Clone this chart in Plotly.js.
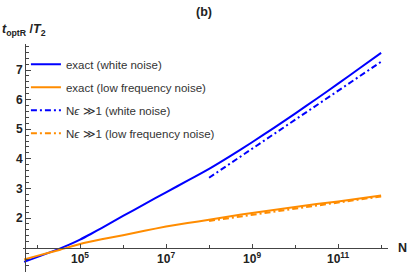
<!DOCTYPE html>
<html>
<head>
<meta charset="utf-8">
<script src="https://cdn.plot.ly/plotly-3.0.1.min.js"></script>
<style>html,body{margin:0;padding:0;background:#fff}#chart{width:409px;height:274px}</style>
</head>
<body>
<div id="chart"></div>
<script>
// Data (N values as powers of ten)
const whiteLogN = [3.7, 4.0, 4.5, 4.75, 5.0, 5.25, 5.5, 6.0, 6.5, 7.0, 7.5, 8.0, 8.5, 9.0, 9.5, 10.0, 10.5, 11.0, 11.5, 12.0];
const exactWhite = [0.52, 0.68, 0.95, 1.10, 1.27, 1.46, 1.66, 2.07, 2.47, 2.87, 3.26, 3.66, 4.10, 4.56, 5.04, 5.53, 6.03, 6.54, 7.06, 7.58];
const lowLogN = [3.7, 4.0, 4.54, 5.0, 5.5, 6.0, 6.5, 7.0, 7.5, 8.0, 8.5, 9.0, 9.5, 10.0, 10.5, 11.0, 11.5, 12.0];
const exactLow = [0.60, 0.72, 0.93, 1.12, 1.28, 1.42, 1.57, 1.71, 1.83, 1.94, 2.06, 2.17, 2.27, 2.37, 2.47, 2.56, 2.66, 2.76];
const asymLogN = [8.0, 9.0, 10.0, 11.0, 12.0];
const asymWhite = [3.36, 4.34, 5.32, 6.30, 7.28];
const asymLow = [1.90, 2.11, 2.32, 2.52, 2.73];
const xTickVals = [5, 7, 9, 11];
const xMinorVals = [4, 6, 8, 10, 12];
const yTickVals = [2, 3, 4, 5, 6, 7];
const names = ["exact (white noise)", "exact (low frequency noise)",
  "N<i>ϵ</i> ≫1 (white noise)", "N<i>ϵ</i> ≫1 (low frequency noise)"];

const pow10 = a => a.map(v => Math.pow(10, v));
const BLUE = "#0000ff", ORANGE = "#ff8c00";
const dashdot = "6px,3px,2px,3px";

const traces = [
  {x: pow10(whiteLogN), y: exactWhite, name: names[0], legendgroup: "a", line: {color: BLUE, width: 2, shape: "spline", smoothing: 0.6}},
  {x: pow10(lowLogN), y: exactLow, name: names[1], legendgroup: "b", line: {color: ORANGE, width: 2, shape: "spline", smoothing: 0.6}},
  {x: pow10(asymLogN), y: asymWhite, name: names[2], legendgroup: "c", line: {color: BLUE, width: 2, dash: dashdot}},
  {x: pow10(asymLogN), y: asymLow, name: names[3], legendgroup: "d", line: {color: ORANGE, width: 2, dash: dashdot}}
].map(t => Object.assign({type: "scatter", mode: "lines", hoverinfo: "skip"}, t));

const yMin = 0.176, yMax = 7.88;
const xMin = 3.674, xMax = 12.16;
const plotL = 23, plotR = 21, plotT = 44, plotB = 2, W = 409, H = 274;
const plotW = W - plotL - plotR, plotH = H - plotT - plotB;
const axisCol = "#444";
const font = "Liberation Sans, Arial, sans-serif";

const yMinor = [];
for (let k = 1; k <= 39; k++) { const v = +(k * 0.2).toFixed(1); if (Math.abs(v - Math.round(v)) > 1e-6) yMinor.push(v); }

const layout = {
  width: W, height: H,
  margin: {l: plotL, r: plotR, t: plotT, b: plotB, pad: 0},
  paper_bgcolor: "#fff", plot_bgcolor: "#fff",
  font: {family: font, color: "#000"},
  showlegend: true,
  legend: {x: 0.008, y: 0.975, xanchor: "left", yanchor: "top", traceorder: "grouped",
    tracegroupgap: 4, font: {family: font, size: 11.5, color: "#333"}, bgcolor: "rgba(0,0,0,0)", itemwidth: 30},
  xaxis: {
    type: "log", range: [xMin, xMax], anchor: "free", position: (1 - yMin) / (yMax - yMin),
    showgrid: false, zeroline: false, showline: true, linecolor: axisCol, linewidth: 1,
    ticks: "inside", ticklen: 4, tickcolor: axisCol, tickwidth: 1,
    tickvals: pow10(xTickVals),
    ticktext: xTickVals.map(v => "<b>10<sup>" + v + "</sup></b>"),
    tickfont: {family: font, size: 12, color: "#222"},
    minor: {tickvals: pow10(xMinorVals), ticks: "inside", ticklen: 3, tickcolor: axisCol, showgrid: false},
    fixedrange: true
  },
  yaxis: {
    range: [yMin, yMax], anchor: "free", position: 2 / plotW,
    showgrid: false, zeroline: false, showline: true, linecolor: axisCol, linewidth: 1,
    ticks: "inside", ticklen: 5, tickcolor: axisCol, tickwidth: 1,
    tickvals: yTickVals, ticktext: yTickVals.map(v => "<b>" + v + "</b>"),
    tickfont: {family: font, size: 12, color: "#222"},
    minor: {tickvals: yMinor, ticks: "inside", ticklen: 3, tickcolor: axisCol, showgrid: false},
    fixedrange: true
  },
  annotations: [
    {xref: "paper", yref: "paper", x: -plotL / plotW, y: 1 + (plotT - 30) / plotH, xanchor: "left", yanchor: "middle", showarrow: false,
      text: "<b><i>t</i><sub>optR</sub> /<i>T</i><sub>2</sub></b>", font: {family: font, size: 12.5, color: "#222"}},
    {xref: "paper", yref: "paper", x: (204 - plotL) / plotW, y: 1 + (plotT - 12) / plotH, xanchor: "center", yanchor: "middle", showarrow: false,
      text: "<b>(b)</b>", font: {family: font, size: 12.5, color: "#222"}},
    {xref: "paper", yref: "paper", x: (402 - plotL) / plotW, y: (1 - yMin) / (yMax - yMin), xanchor: "center", yanchor: "middle", showarrow: false,
      text: "<b>N</b>", font: {family: font, size: 12.5, color: "#222"}}
  ]
};

Plotly.newPlot("chart", traces, layout, {displayModeBar: false, staticPlot: true});
</script>
</body>
</html>
